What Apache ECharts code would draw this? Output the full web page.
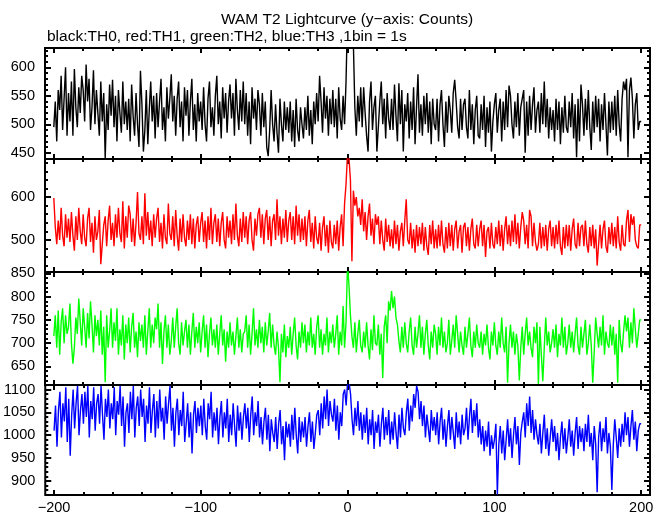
<!DOCTYPE html>
<html>
<head>
<meta charset="utf-8">
<script src="https://cdn.jsdelivr.net/npm/echarts@6/dist/echarts.min.js"></script>
<style>html,body{margin:0;padding:0;background:#fff}#c{width:669px;height:515px}</style>
</head>
<body>
<div id="c"></div>
<script>
// bin start times: -200 .. 199 (1 bin = 1 s)
const binStart = -200;
const TH0 = [
495,540,470,560,525,585,490,545,600,480,
555,505,575,480,597,530,495,565,520,585,
560,505,605,540,580,490,530,595,500,560,
520,480,575,505,555,440,535,490,570,515,
578,495,550,470,560,520,485,575,500,540,
490,545,470,570,515,480,555,500,460,594,
535,452,490,560,465,525,575,505,550,475,
555,495,540,580,490,530,470,565,510,545,
588,505,550,480,545,575,495,540,470,565,
515,560,480,540,580,490,535,470,555,505,
540,490,565,500,470,545,575,495,530,480,
550,585,500,540,475,565,510,555,485,540,
570,510,555,480,580,525,490,560,505,575,
500,555,480,540,465,565,510,545,490,560,
535,480,555,495,540,460,444,490,560,500,
470,535,485,450,545,500,470,540,490,530,
485,540,470,525,460,545,490,470,530,500,
475,530,490,550,480,525,465,540,500,555,
505,585,540,485,565,510,550,480,545,500,
560,495,545,475,565,510,490,550,500,575,
690,720,665,650,642,530,480,550,505,565,
495,565,520,480,452,540,575,490,530,550,
452,495,540,575,500,545,475,555,510,490,
545,490,570,515,470,572,500,560,452,535,
505,555,475,540,490,565,465,530,588,485,
535,480,550,500,555,485,540,465,545,500,
490,545,470,535,560,500,460,540,485,550,
525,485,555,578,540,495,475,545,490,535,
545,495,475,560,490,535,465,525,550,480,
475,535,490,550,460,530,485,540,452,505,
535,555,485,525,545,470,540,490,560,495,
568,550,500,475,540,495,555,480,530,545,
560,450,540,480,550,490,535,565,485,525,
540,485,555,500,575,495,545,475,530,490,
525,470,545,490,540,465,530,485,550,495,
485,540,495,555,475,535,442,545,470,570,
535,480,545,490,560,495,455,540,485,550,
495,545,470,535,490,555,500,445,540,485,
540,490,550,480,560,500,470,545,575,560,
580,442,560,582,545,475,535,555,490,505
];
const TH1 = [
598,530,490,545,500,575,510,485,560,505,
550,495,565,510,475,555,500,575,520,490,
560,505,485,550,575,495,540,470,555,500,
520,570,443,490,535,555,485,545,580,500,
540,485,560,505,575,515,495,590,480,555,
505,580,560,495,550,485,540,612,515,500,
555,490,609,510,565,500,545,485,560,505,
550,575,495,540,480,560,505,490,585,515,
500,555,485,570,510,475,550,495,560,505,
485,545,500,560,490,550,480,535,555,495,
540,565,495,545,480,555,500,575,490,540,
560,495,550,485,540,565,500,480,555,505,
545,490,560,500,585,510,485,550,495,565,
505,555,490,545,565,500,475,550,510,560,
575,505,560,490,550,570,500,555,485,545,
560,500,595,510,555,490,550,505,570,495,
545,565,500,555,490,580,510,560,495,550,
500,555,485,545,570,495,540,480,555,505,
490,540,475,530,555,485,535,470,545,495,
480,535,490,545,475,530,560,485,585,630,
700,690,640,450,615,580,600,555,575,535,
595,520,565,500,555,585,510,550,490,560,
535,555,490,545,500,475,550,495,535,485,
525,480,545,490,535,475,520,540,485,545,
595,500,490,540,480,525,470,535,485,530,
490,540,475,530,485,465,535,490,545,480,
525,480,535,485,545,490,470,530,480,540,
485,535,475,525,545,480,520,535,470,530,
540,485,530,475,525,550,490,480,535,485,
525,545,485,535,460,520,530,480,540,490,
480,530,490,545,485,535,475,525,555,490,
535,485,545,495,560,490,540,480,530,565,
545,490,535,480,570,555,485,540,495,475,
490,540,480,530,485,535,475,525,545,485,
530,480,535,490,545,485,465,530,480,535,
485,535,475,525,550,490,480,540,485,530,
535,485,545,490,470,530,485,535,480,525,
440,490,535,480,525,545,485,470,530,490,
540,485,530,480,555,495,475,535,490,485,
545,570,495,560,535,555,500,485,480,535
];
const TH2 = [
715,760,690,770,675,745,775,700,760,720,
735,785,700,656,690,755,720,796,745,695,
775,735,690,765,710,790,740,680,760,715,
750,695,770,675,735,616,760,690,725,775,
690,745,705,775,675,730,695,760,665,740,
700,755,680,735,765,690,725,670,745,705,
740,690,760,675,725,775,690,740,700,755,
730,785,690,745,655,725,760,690,740,675,
705,755,690,735,775,700,675,745,695,725,
750,690,740,675,725,765,690,735,700,745,
680,725,760,690,740,670,720,755,695,730,
690,740,675,720,760,695,730,660,725,690,
745,695,725,675,715,755,690,730,680,720,
725,760,690,740,675,720,775,695,730,690,
750,700,735,680,745,695,725,765,690,740,
695,675,725,690,616,720,680,740,670,715,
690,735,675,720,755,695,665,725,690,745,
700,740,680,725,695,755,690,720,675,735,
760,690,730,675,720,695,755,680,725,700,
740,690,720,760,675,725,695,780,690,745,
870,825,760,715,690,745,680,720,750,695,
680,725,690,745,695,665,730,685,760,700,
695,740,675,720,625,735,760,700,790,770,
812,775,800,755,740,705,680,735,690,745,
700,680,725,755,695,675,735,690,720,760,
690,735,675,720,750,695,665,725,690,740,
720,675,735,695,755,690,725,680,700,750,
675,705,740,690,760,720,680,725,695,675,
735,690,720,755,695,670,725,690,740,700,
690,725,675,720,695,740,690,665,725,695,
745,695,675,725,690,755,700,680,735,615,
700,740,690,725,675,720,695,620,690,735,
675,720,755,695,725,690,670,735,700,745,
612,735,675,618,690,755,695,725,680,700,
730,690,740,670,720,695,755,690,735,675,
700,740,690,725,680,720,755,695,675,735,
690,720,750,675,700,740,695,615,680,755,
720,690,735,695,760,675,725,700,690,740,
695,735,675,720,615,750,700,680,725,760,
725,755,690,745,700,775,730,690,720,750
];
const TH3 = [
1010,1065,975,1055,1095,995,1070,1030,1105,985,
1080,955,1045,1100,1015,1070,1108,1000,1055,1090,
1025,1095,1040,1108,995,1075,1035,1105,1010,1070,
1090,1025,1108,1045,990,1080,1040,1100,1015,1070,
1035,1105,1000,1075,1045,1108,1020,1085,975,1050,
1070,1005,1095,1035,1108,995,1060,1085,1020,1100,
1040,1080,985,1065,1025,1105,1005,1055,1090,995,
1075,1015,1100,1030,1060,990,1085,1025,1070,1108,
1010,1060,975,1050,1080,1000,1055,1020,1095,985,
1025,1070,995,1050,960,1045,1075,1005,1060,1020,
1065,1000,1080,1020,990,1070,1035,1095,995,1050,
1010,1060,980,1040,1075,995,1050,1015,1080,985,
1045,1000,1070,1020,975,1065,1010,1050,990,1040,
1070,1015,1060,985,1045,1085,1000,1050,1020,1075,
995,1040,980,1030,1060,990,1045,965,1035,1005,
985,1040,970,1025,1055,980,1020,945,1030,995,
1025,975,1045,990,1060,1000,960,1040,985,1030,
995,1040,975,1020,1050,985,1030,970,1005,1045,
1055,1000,1070,1015,1085,1035,1100,1020,1075,1045,
1030,1080,1010,1065,990,1050,1020,1090,1100,1065,
1120,1115,1090,1035,1000,1060,1020,1075,1010,1050,
990,1045,1005,1060,980,1035,1000,1055,970,1030,
1005,1045,975,1025,1060,990,1040,1000,1055,980,
1030,990,1050,1005,970,1045,995,1060,1015,1000,
1050,1080,1010,1065,1030,1090,1060,1108,1095,1035,
1075,1020,1065,995,1045,1015,985,1055,1010,1040,
1000,1050,980,1030,1060,990,1035,975,1020,1055,
990,1040,1005,970,1050,995,1030,980,1045,1000,
1015,1060,990,1040,1080,1005,1055,1020,1070,995,
1035,980,1020,965,1010,975,1030,955,1000,970,
990,1025,870,980,1020,960,1010,945,990,1035,
975,1015,950,1000,1040,980,1020,935,1005,1030,
1050,995,1070,1020,1085,1005,1055,990,1035,1000,
980,1025,960,1005,1045,970,1015,955,995,1035,
985,1020,965,1005,945,995,1030,970,1015,960,
995,1035,975,1010,955,1005,1040,970,1020,985,
1015,965,1025,985,1045,975,1005,945,1020,980,
875,995,1030,965,1015,985,1040,960,1005,975,
880,980,1035,995,950,1015,975,1025,985,1050,
1000,1040,975,1020,1055,990,1030,965,1010,1025
];

const colors = ['#000000', '#ff0000', '#00ff00', '#0000ff'];
const yMin = [439, 425, 610, 869];
const yMax = [634, 689, 853, 1110];
const yMajor = [
  [450, 500, 550, 600],
  [500, 600],
  [650, 700, 750, 800, 850],
  [900, 950, 1000, 1050, 1100]
];
const yMinor = [
  [440,450,460,470,480,490,500,510,520,530,540,550,560,570,580,590,600,610,620,630],
  [440,460,480,500,520,540,560,580,600,620,640,660,680],
  [610,620,630,640,650,660,670,680,690,700,710,720,730,740,750,760,770,780,790,800,810,820,830,840,850],
  [870,880,890,900,910,920,930,940,950,960,970,980,990,1000,1010,1020,1030,1040,1050,1060,1070,1080,1090,1100]
];
const xMajor = [-200, -100, 0, 100, 200];
const xMinor = [-200,-180,-160,-140,-120,-100,-80,-60,-40,-20,0,20,40,60,80,100,120,140,160,180,200];
const xMin = -206, xMax = 206;
const titleText = 'WAM T2 Lightcurve (y\u2212axis: Counts)';
const subtitleText = 'black:TH0, red:TH1, green:TH2, blue:TH3 ,1bin = 1s';

const allSeries = [TH0, TH1, TH2, TH3];
const gridTop = [48, 159, 272, 385];
const gridH = [111, 113, 113, 111];
const FONT = 'Liberation Sans';

const grids = [], xAxes = [], yAxes = [], series = [];
const tickStyle = {color: '#000', width: 2};
const noLine = {show: false, onZero: false};

for (let i = 0; i < 4; i++) {
  grids.push({left: 45, width: 605, top: gridTop[i], height: gridH[i], show: true,
    borderColor: '#000', borderWidth: 2, backgroundColor: 'transparent', containLabel: false});
  const xBase = {type: 'value', gridIndex: i, min: xMin, max: xMax,
    axisLine: noLine, splitLine: {show: false}};
  const isBottom = i === 3;
  xAxes.push(Object.assign({}, xBase, {position: 'bottom',
    axisTick: {show: true, inside: true, length: 5, lineStyle: tickStyle, customValues: xMajor},
    axisLabel: {show: isBottom, customValues: xMajor, margin: 5, color: '#000',
      fontFamily: FONT, fontSize: 14.5,
      formatter: v => String(v).replace('-', '\u2212')}}));
  xAxes.push(Object.assign({}, xBase, {position: 'bottom',
    axisTick: {show: true, inside: true, length: 3, lineStyle: tickStyle, customValues: xMinor},
    axisLabel: {show: false}}));
  xAxes.push(Object.assign({}, xBase, {position: 'top',
    axisTick: {show: true, inside: true, length: 5, lineStyle: tickStyle, customValues: xMajor},
    axisLabel: {show: false}}));
  xAxes.push(Object.assign({}, xBase, {position: 'top',
    axisTick: {show: true, inside: true, length: 3, lineStyle: tickStyle, customValues: xMinor},
    axisLabel: {show: false}}));

  const yBase = {type: 'value', gridIndex: i, min: yMin[i], max: yMax[i],
    axisLine: noLine, splitLine: {show: false}};
  yAxes.push(Object.assign({}, yBase, {position: 'left',
    axisTick: {show: true, inside: true, length: 6, lineStyle: tickStyle, customValues: yMajor[i]},
    axisLabel: {show: true, customValues: yMajor[i], margin: 10, color: '#000',
      fontFamily: FONT, fontSize: 14.5, formatter: v => String(v)}}));
  yAxes.push(Object.assign({}, yBase, {position: 'left',
    axisTick: {show: true, inside: true, length: 3, lineStyle: tickStyle, customValues: yMinor[i]},
    axisLabel: {show: false}}));
  yAxes.push(Object.assign({}, yBase, {position: 'right',
    axisTick: {show: true, inside: true, length: 6, lineStyle: tickStyle, customValues: yMajor[i]},
    axisLabel: {show: false}}));
  yAxes.push(Object.assign({}, yBase, {position: 'right',
    axisTick: {show: true, inside: true, length: 3, lineStyle: tickStyle, customValues: yMinor[i]},
    axisLabel: {show: false}}));

  const vals = allSeries[i];
  const data = vals.map((v, k) => [binStart + k, v]);
  data.push([binStart + vals.length, vals[vals.length - 1]]);
  series.push({type: 'line', xAxisIndex: i * 4, yAxisIndex: i * 4, data: data,
    step: 'end', showSymbol: false, symbol: 'none', clip: true, silent: true,
    lineStyle: {color: colors[i], width: 1.4}, z: 1});
}

const chart = echarts.init(document.getElementById('c'), null, {renderer: 'canvas'});
chart.setOption({
  animation: false,
  backgroundColor: '#ffffff',
  title: [
    {text: titleText, left: 347, top: 12, textAlign: 'center', padding: 0,
      textStyle: {fontFamily: FONT, fontSize: 15.5, fontWeight: 'normal', color: '#000'}},
    {text: subtitleText, left: 47, top: 29, padding: 0,
      textStyle: {fontFamily: FONT, fontSize: 15.5, fontWeight: 'normal', color: '#000'}}
  ],
  grid: grids,
  xAxis: xAxes,
  yAxis: yAxes,
  series: series
});
</script>
</body>
</html>
